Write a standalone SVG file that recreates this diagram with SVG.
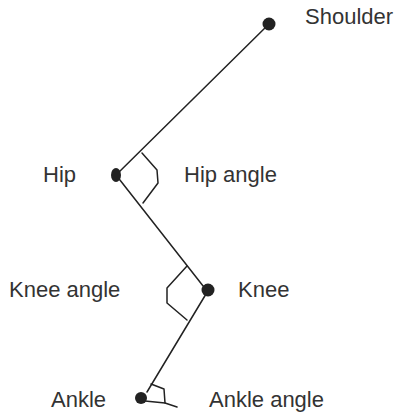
<svg xmlns="http://www.w3.org/2000/svg" width="396" height="416" viewBox="0 0 396 416">
<style>
.lbl{font-family:"Liberation Sans",Arial,sans-serif;font-size:22px;fill:#333}
.seg{stroke:#222;stroke-width:1.5;fill:none;stroke-linecap:round;stroke-linejoin:round}
.dot{fill:#222}
</style>
<rect width="396" height="416" fill="#fff"/>
<g id="connectors">
<path class="seg" d="M269,24 L116,175"/>
<path class="seg" d="M116,175 L207,291"/>
<path class="seg" d="M206,294 L147,392"/>
<path class="seg" d="M145,401 L165,403 L177,407"/>
<path class="seg" d="M142,153 L157,170 L158,183 L143,203"/>
<path class="seg" d="M187,266 L167,288 L167,303 L187,320"/>
<path class="seg" d="M151,384 L164,389 L165,403"/>
</g>
<g id="shoulder"><circle class="dot" cx="269" cy="24" r="6.5"/><text class="lbl" x="305" y="24">Shoulder</text></g>
<g id="hip"><ellipse class="dot" cx="116" cy="175" rx="5" ry="7"/><text class="lbl" x="43" y="182">Hip</text></g>
<g id="hip-angle"><text class="lbl" x="184" y="182">Hip angle</text></g>
<g id="knee"><circle class="dot" cx="208" cy="290" r="6.5"/><text class="lbl" x="238" y="297">Knee</text></g>
<g id="knee-angle"><text class="lbl" x="9" y="297">Knee angle</text></g>
<g id="ankle"><circle class="dot" cx="141" cy="398" r="6"/><text class="lbl" x="51" y="407">Ankle</text></g>
<g id="ankle-angle"><text class="lbl" x="209" y="407">Ankle angle</text></g>
</svg>
